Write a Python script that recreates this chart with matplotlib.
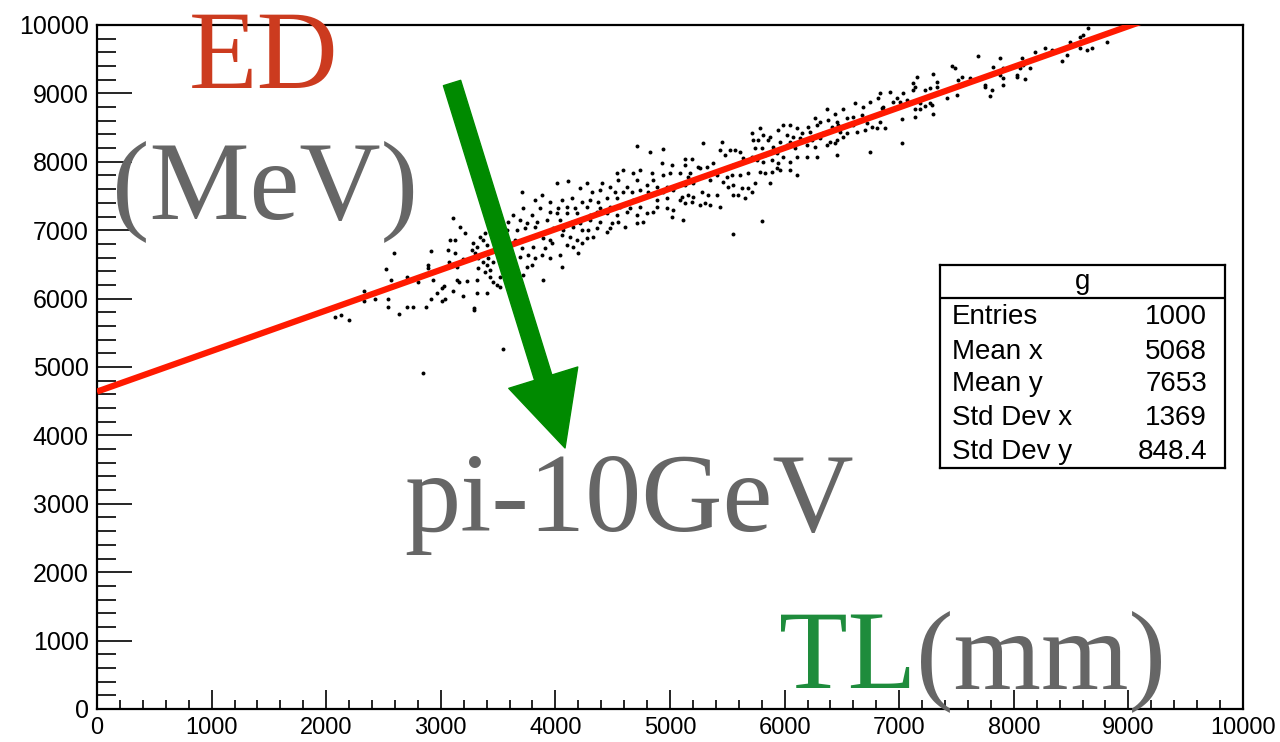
import matplotlib
matplotlib.use("Agg")
import matplotlib.pyplot as plt
from matplotlib.ticker import MultipleLocator

plt.rcParams['font.family'] = ['Liberation Sans', 'DejaVu Sans']

# ---------------- data ----------------
# scatter points (TL in mm, ED in MeV)
pts_low_x = [3109, 3168, 3211, 2592, 2914, 3080, 3124, 3066, 3124, 2522, 2891, 2891, 3075, 3139, 3197,
             2565, 2708, 2798, 2935, 3145, 3162, 2333, 2333, 2426, 2542, 2542, 2638, 2708, 2754, 2871,
             2914, 2964, 3007, 3028, 3007, 3037, 3104, 3197, 3293, 3293, 2077, 2126, 2199, 2848, 3546,
             3313, 3406, 3225, 3313, 3284, 3313, 3342, 3371, 3386, 3400, 3269, 3298, 3328, 3371, 3400,
             3429, 3458, 3328, 3386, 3429, 3458, 3488, 3517, 3517, 3415]
pts_low_y = [7174, 7051, 6955, 6671, 6700, 6857, 6857, 6711, 6671, 6428, 6491, 6450, 6540, 6467, 6574,
             6272, 6311, 6247, 6272, 6265, 6250, 6115, 5969, 5998, 5998, 5882, 5770, 5882, 5882, 5882,
             5994, 6076, 6150, 6184, 5965, 5998, 6115, 6038, 5863, 5830, 5726, 5760, 5687, 4908, 5259,
             6076, 6076, 6262, 6272, 6808, 6759, 6905, 6857, 6955, 6784, 6711, 6662, 6589, 6540, 6491,
             6418, 6540, 6443, 6394, 6321, 6247, 6199, 6321, 6175, 6589]

pts_mid_x = [4710, 4826, 4943, 4928, 5015, 5131, 5190, 5131, 5248, 5175, 5161, 4535, 4593, 4681, 4739,
             4841, 4943, 5001, 5088,
             4012, 4113, 4273, 4404, 4477, 4550, 4622, 4710, 4797, 4855, 4884, 4972, 5044, 5131, 5204,
             3706, 3881, 4215, 4317, 4390, 4521, 4593, 4666, 4739, 4812, 4943, 5030, 5102, 5161, 5204,
             3822, 3953, 4055, 4142, 4230, 4302, 4375, 4448, 4535, 4681, 4768, 4884, 4972, 5088, 5131, 5190,
             3721, 3866, 4026, 4099, 4172, 4273, 4390, 4477, 4564, 4651, 4739, 4884, 4972, 5030,
             3633, 3793, 3953, 4012, 4099, 4186, 4302, 4361, 4448, 4535, 4622, 4710, 4797, 4855, 5015, 5117,
             3590, 3692, 3750, 3837, 3924, 4041, 4142, 4215, 4302, 4390, 4492, 4550, 4608, 4710, 4768,
             3575, 3662, 3735, 3822, 3982, 4070, 4157, 4230, 4288, 4361, 4448, 4477,
             3546, 3648, 3793, 3895, 3953, 4055, 4128, 4186, 4273, 4332,
             3706, 3808, 3910, 3968, 4099, 4157, 4230,
             3692, 3764, 3822, 3881, 3953, 4041, 4201,
             3750, 3793, 4055, 3721, 3895]
pts_mid_y = [8231, 8148, 8182, 7987, 7953, 8036, 8036, 7953, 7929, 7831, 7783, 7831, 7880, 7831, 7880,
             7831, 7807, 7831, 7831,
             7685, 7719, 7685, 7685, 7636, 7734, 7636, 7734, 7661, 7734, 7636, 7636, 7636, 7661, 7685,
             7563, 7515, 7612, 7563, 7588, 7563, 7563, 7563, 7588, 7563, 7563, 7588, 7490, 7515, 7490,
             7442, 7417, 7442, 7466, 7417, 7442, 7417, 7466, 7466, 7442, 7490, 7442, 7466, 7442, 7393, 7417,
             7320, 7320, 7320, 7344, 7320, 7344, 7320, 7344, 7344, 7320, 7344, 7344, 7320, 7295,
             7222, 7222, 7271, 7247, 7247, 7247, 7222, 7271, 7247, 7222, 7271, 7222, 7247, 7271, 7198, 7149,
             7125, 7149, 7100, 7125, 7149, 7149, 7125, 7100, 7149, 7125, 7100, 7125, 7052, 7100, 7125,
             7003, 7003, 7027, 7052, 7027, 7003, 7052, 7003, 7003, 7027, 6979, 7027,
             6881, 6857, 6905, 6881, 6857, 6930, 6905, 6857, 6881, 6905,
             6735, 6759, 6735, 6808, 6784, 6759, 6808,
             6613, 6637, 6589, 6637, 6589, 6637, 6662,
             6467, 6491, 6467, 6345, 6272]

pts_upper_x = [6614, 6687, 6745, 6818, 6367, 6512, 6440, 6600, 6672, 5989, 6047, 6265, 6309, 6381, 6454, 6542,
               5785, 5945, 6105, 6207, 6280, 6411, 6469, 6600, 6716, 6760, 6803,
               5712, 5814, 5872, 6018, 6076, 6149, 6222, 6338, 6483, 6542, 6629, 6702,
               5291, 5451, 5727, 5771, 5858, 5960, 6047, 6134, 6236, 6309, 6396, 6454, 6512,
               5523, 5567, 5611, 5742, 5800, 5902, 6018, 6091, 6192, 6265, 6367, 6440,
               5436, 5480, 5640, 5712, 5829, 5931, 5989, 6105, 6192, 6280, 6454, 6745,
               5262, 5320, 5378, 5451, 5552, 5669, 5756, 5814, 5887, 5945, 6047, 5931,
               5407, 5494, 5538, 5611, 5683, 5785, 5829, 5887, 5960, 6047, 6105,
               5349, 5465, 5509, 5552, 5625, 5683, 5742, 5872,
               5276, 5334, 5407, 5552, 5596, 5712, 5654,
               5262, 5305, 5349, 5436, 5800, 5550]
pts_upper_y = [8855, 8806, 8879, 8928, 8767, 8767, 8699, 8660, 8684, 8538, 8538, 8635, 8587, 8611, 8587, 8635,
               8489, 8465, 8489, 8513, 8538, 8513, 8538, 8538, 8562, 8513, 8489,
               8416, 8392, 8367, 8392, 8367, 8416, 8440, 8416, 8440, 8416, 8440, 8465,
               8270, 8294, 8319, 8319, 8319, 8294, 8294, 8343, 8319, 8343, 8294, 8319, 8367,
               8172, 8172, 8148, 8197, 8197, 8221, 8245, 8197, 8245, 8221, 8245, 8270,
               8172, 8099, 8050, 8075, 8099, 8124, 8075, 8075, 8075, 8075, 8099, 8148,
               7904, 7929, 7977, 7880, 7953, 8026, 8026, 8002, 8026, 7977, 8002, 7904,
               7807, 7783, 7807, 7807, 7831, 7856, 7831, 7856, 7880, 7880, 7807,
               7734, 7709, 7636, 7661, 7612, 7612, 7685, 7685,
               7563, 7515, 7515, 7515, 7515, 7563, 7466,
               7368, 7393, 7368, 7344, 7134, 6944]

pts_top_x = [8651, 8578, 8607, 8491, 8578, 8636, 8680, 8811, 8272, 8331, 8462, 8418, 8185,
             7880, 8069, 7691, 8083, 8054, 8142, 7909, 7822, 8025, 8025, 7909, 8098, 7880, 7909,
             7749, 7749, 7807, 7793,
             7458, 7487, 7545, 7516, 7618, 7502, 7414, 7298, 7327, 7327, 7269, 7153, 7123, 7138, 7123, 7225,
             6833, 6920, 7036, 6978, 7065, 7182, 7225, 7269, 7283, 7298, 7138, 7182, 7138, 7022,
             6847, 6856, 6862, 6949, 7007, 7022, 6833, 6876]
pts_top_y = [9951, 9829, 9854, 9756, 9659, 9634, 9668, 9746, 9668, 9634, 9561, 9474, 9600,
             9513, 9513, 9552, 9415, 9376, 9366, 9366, 9391, 9269, 9245, 9220, 9206, 9269, 9123,
             9123, 9098, 9050, 8967,
             9405, 9366, 9245, 9196, 9220, 8976, 8938, 9279, 9171, 9098, 9084, 9245, 9147, 9098, 9050, 9050,
             9001, 9016, 9001, 8928, 8903, 8855, 8821, 8855, 8830, 8694, 8772, 8772, 8660, 8626,
             8782, 8806, 8757, 8869, 8869, 8270, 8577, 8499]

points_x = pts_low_x + pts_mid_x + pts_upper_x + pts_top_x
points_y = pts_low_y + pts_mid_y + pts_upper_y + pts_top_y

# fitted straight line (end points)
fit_x = [0, 10000]
fit_y = [4640, 10576]

tick_values = [0, 1000, 2000, 3000, 4000, 5000, 6000, 7000, 8000, 9000, 10000]
tick_labels = ['0', '1000', '2000', '3000', '4000', '5000', '6000', '7000', '8000', '9000', '10000']

stats_title = 'g'
stats_labels = ['Entries', 'Mean x', 'Mean y', 'Std Dev x', 'Std Dev y']
stats_values = ['1000', '5068', '7653', '1369', '848.4']

# ---------------- figure ----------------
W, H = 1280, 742
fig = plt.figure(figsize=(W / 100, H / 100), dpi=100)
fig.patch.set_facecolor('white')
ax = fig.add_axes([97 / W, 1 - 709 / H, 1146 / W, 684 / H])
ax.set_xlim(0, 10000)
ax.set_ylim(0, 10000)

ax.scatter(points_x, points_y, s=8, c='black', marker='o', linewidths=0, zorder=2)
ax.plot(fit_x, fit_y, color='#ff1a00', lw=4.5, zorder=3, solid_capstyle='butt')

ax.set_xticks(tick_values, tick_labels)
ax.set_yticks(tick_values, tick_labels)
ax.xaxis.set_minor_locator(MultipleLocator(200))
ax.yaxis.set_minor_locator(MultipleLocator(200))
ax.tick_params(which='both', direction='in', top=False, right=False, color='black')
ax.tick_params(axis='x', which='major', length=13.7, width=1.2, pad=6, labelsize=17)
ax.tick_params(axis='x', which='minor', length=6.7, width=1.2)
ax.tick_params(axis='y', which='major', length=25, width=1.2, pad=6, labelsize=18)
ax.tick_params(axis='y', which='minor', length=13.7, width=1.2)
for s in ax.spines.values():
    s.set_linewidth(1.6)

# green arrow
ax.annotate('', xy=(4084, 3816), xytext=(3098, 9152),
            arrowprops=dict(width=13, headwidth=52, headlength=53, color='#008a00', shrink=0),
            annotation_clip=False, zorder=5)

# stats box
sb = fig.add_axes([940 / W, 1 - 468 / H, 285 / W, 203 / H])
sb.set_xlim(0, 1)
sb.set_ylim(0, 1)
sb.set_xticks([])
sb.set_yticks([])
for s in sb.spines.values():
    s.set_linewidth(1.6)
sb.axhline(0.8374, color='black', lw=1.6)
sb.text(0.5, 0.918, stats_title, ha='center', va='center', fontsize=20)
row_y = [0.744, 0.571, 0.414, 0.246, 0.079]
for yy, lab, val in zip(row_y, stats_labels, stats_values):
    sb.text(0.042, yy, lab, ha='left', va='center', fontsize=20)
    sb.text(0.937, yy, val, ha='right', va='center', fontsize=20)

# big overlaid labels
serif = ['Liberation Serif', 'DejaVu Serif']
big = 81
fig.text(189 / W, 1 - 88 / H, 'ED', color='#cc3b1f', fontsize=big, family=serif, va='baseline')
fig.text(112 / W, 1 - 218 / H, '(MeV)', color='#666666', fontsize=big, family=serif, va='baseline')
fig.text(404 / W, 1 - 531 / H, 'pi-10GeV', color='#666666', fontsize=big, family=serif, va='baseline')
tl = fig.text(779 / W, 1 - 688 / H, 'TL', color='#1e8c3c', fontsize=big, family=serif, va='baseline')
fig.text(0, 0, '(mm)', color='#666666', fontsize=big, family=serif, va='baseline')
fig.canvas.draw()
rend = fig.canvas.get_renderer()
bb = tl.get_window_extent(rend)
fig.texts[-1].set_position((bb.x1 / W, 1 - 688 / H))

fig.savefig('out.png', dpi=100)
